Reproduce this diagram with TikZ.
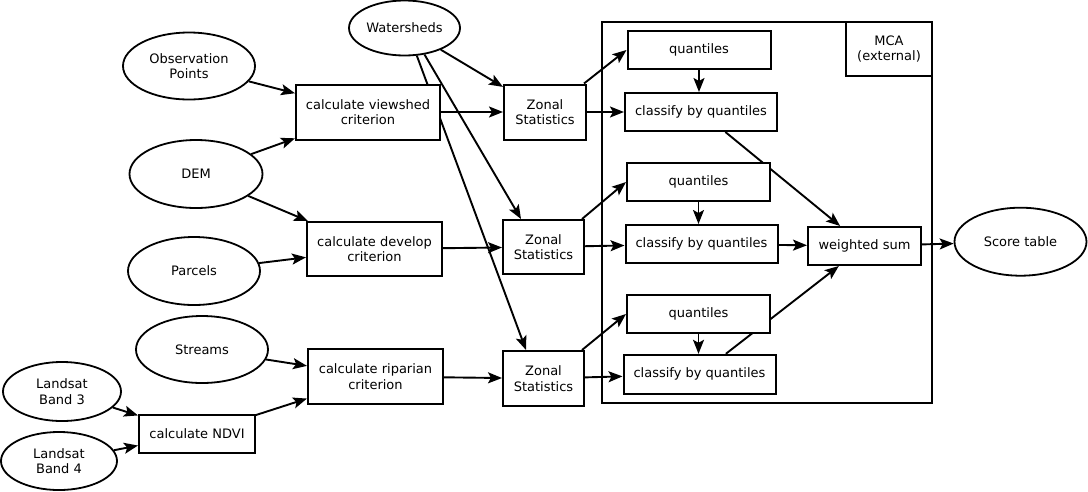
\documentclass[tikz,border=0pt]{standalone}
\usepackage{fontspec}
\setmainfont{DejaVu Sans}
\usetikzlibrary{shapes.geometric,arrows.meta,backgrounds,calc}
\begin{document}
\begin{tikzpicture}[x=1pt,y=-1pt,
 every node/.style={font=\fontsize{13}{15.6}\selectfont, align=center, inner sep=0pt},
 box/.style={draw, line width=2pt, fill=white, rectangle},
 ell/.style={draw, line width=1.8pt, fill=white, ellipse},
 arr/.style={line width=1.9pt, -{Stealth[length=14pt,width=11pt,inset=3pt]}},
]
\useasboundingbox (0,0) rectangle (1088,491);
% container
\node[draw, line width=2pt, minimum width=330pt, minimum height=381pt] (mca) at (767,212.5) {};
\node[box, minimum width=86pt, minimum height=54pt] (mcalabel) at (889,49) {MCA\\(external)};
% ellipses
\node[ell, minimum width=132pt, minimum height=67pt] (obs) at (189,66) {Observation\\Points};
\node[ell, minimum width=133pt, minimum height=68pt] (dem) at (196,174) {DEM};
\node[ell, minimum width=132pt, minimum height=68pt] (par) at (194,271) {Parcels};
\node[ell, minimum width=132pt, minimum height=67pt] (str) at (202,349.5) {Streams};
\node[ell, minimum width=118pt, minimum height=59pt] (b3) at (62,391.5) {Landsat\\Band 3};
\node[ell, minimum width=116pt, minimum height=58pt] (b4) at (59,461) {Landsat\\Band 4};
\node[ell, minimum width=111pt, minimum height=55pt] (ws) at (404.5,28) {Watersheds};
\node[ell, minimum width=132pt, minimum height=68pt] (score) at (1020.5,241.7) {Score table};
% boxes
\node[box, minimum width=116pt, minimum height=38pt] (ndvi) at (197,434) {calculate NDVI};
\node[box, minimum width=135pt, minimum height=55pt] (rip) at (375.5,376.5) {calculate riparian\\criterion};
\node[box, minimum width=135pt, minimum height=54pt] (dev) at (374.5,249) {calculate develop\\criterion};
\node[box, minimum width=144pt, minimum height=55pt] (view) at (368,112) {calculate viewshed\\criterion};
\node[box, minimum width=82pt, minimum height=55pt] (z1) at (545,112) {Zonal\\Statistics};
\node[box, minimum width=81pt, minimum height=54pt] (z2) at (543.5,247) {Zonal\\Statistics};
\node[box, minimum width=81pt, minimum height=55pt] (z3) at (543.5,378.5) {Zonal\\Statistics};
\node[box, minimum width=143pt, minimum height=38pt] (q1) at (699,50) {quantiles};
\node[box, minimum width=152pt, minimum height=38pt] (c1) at (701,112) {classify by quantiles};
\node[box, minimum width=143pt, minimum height=38pt] (q2) at (698.5,182) {quantiles};
\node[box, minimum width=152pt, minimum height=38pt] (c2) at (701.5,244) {classify by quantiles};
\node[box, minimum width=143pt, minimum height=38pt] (q3) at (698.5,314) {quantiles};
\node[box, minimum width=152pt, minimum height=39pt] (c3) at (699.5,374.3) {classify by quantiles};
\node[box, minimum width=113pt, minimum height=38pt] (wsum) at (864.5,246) {weighted sum};
% connectors
\begin{pgfonlayer}{background}
\draw[arr] (obs) -- (view);
\draw[arr] (dem) -- (view);
\draw[arr] (dem) -- (dev);
\draw[arr] (par) -- (dev);
\draw[arr] (str) -- (rip);
\draw[arr] (b3) -- (ndvi);
\draw[arr] (b4) -- (ndvi);
\draw[arr] (ndvi) -- (rip);
\draw[arr] (view.east) -- (z1.west);
\draw[arr] (dev) -- (z2);
\draw[arr] (rip) -- (z3);
\draw[arr] (ws) -- (z1);
\draw[arr] (ws.-53) -- ($(z2.north west)+(19,0)$);
\draw[arr] (ws.-66) -- ($(z3.north west)+(24,0)$);
\draw[arr] ($(z1.north east)+(-3,0)$) -- (q1.west);
\draw[arr] (z1.east) -- (c1.west);
\draw[arr] (q1.south) -- (q1.south |- c1.north);
\draw[arr] (c1) -- (wsum);
\draw[arr] ($(z2.north east)+(-3,0)$) -- (q2.west);
\draw[arr] (z2) -- (c2);
\draw[arr] (q2.south) -- (q2.south |- c2.north);
\draw[arr] (c2) -- (wsum);
\draw[arr] ($(z3.north east)+(-3,0)$) -- (q3.west);
\draw[arr] (z3) -- (c3);
\draw[arr] (q3.south) -- (q3.south |- c3.north);
\draw[arr] (c3) -- (wsum);
\draw[arr] (wsum) -- (score);
\end{pgfonlayer}
\end{tikzpicture}
\end{document}
